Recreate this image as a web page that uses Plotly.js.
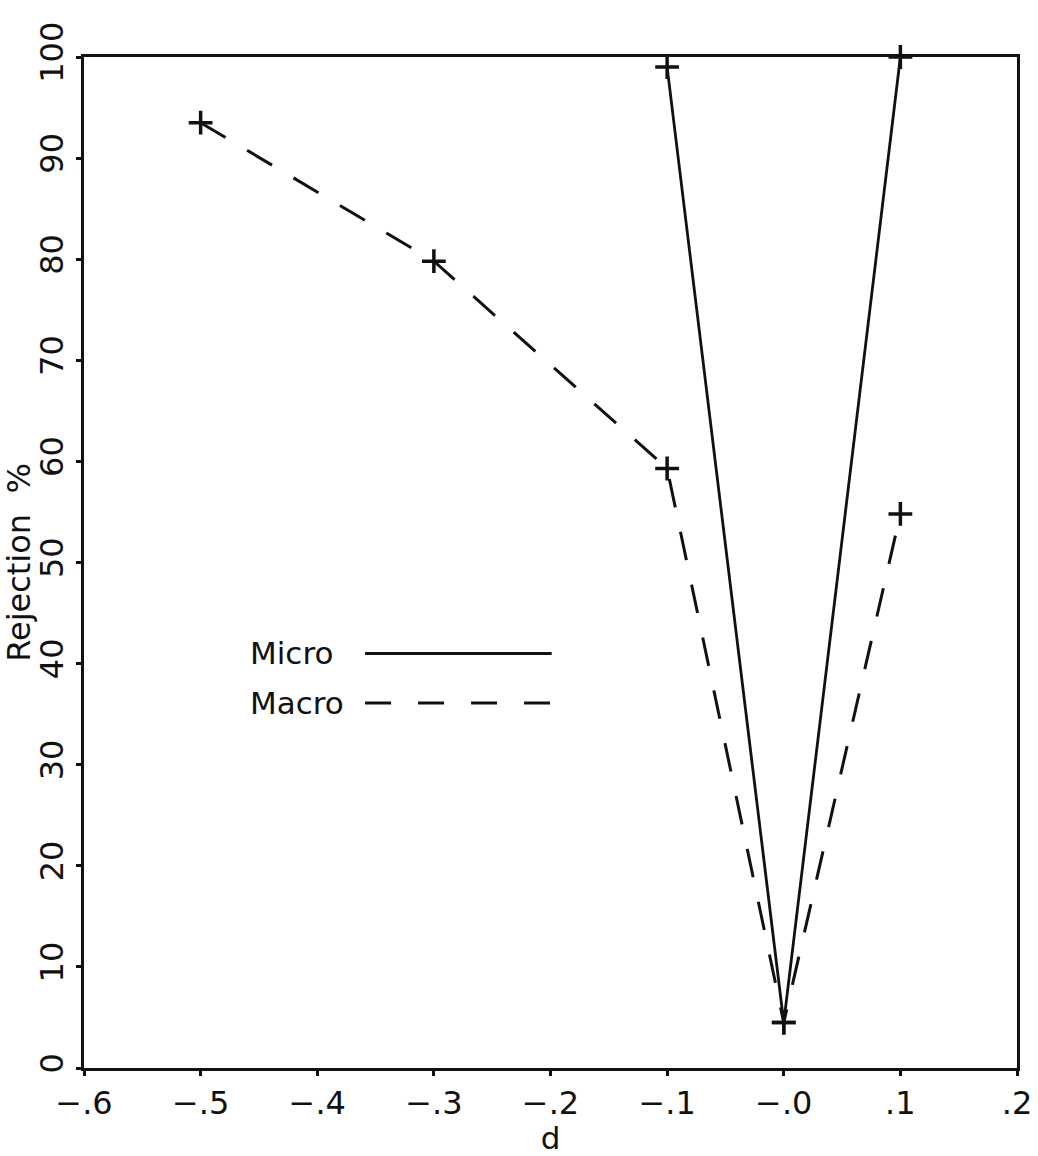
<!DOCTYPE html>
<html>
<head>
<meta charset="utf-8">
<script src="https://cdn.plot.ly/plotly-3.0.1.min.js"></script>
<style>
  html, body { margin: 0; padding: 0; background: #ffffff; }
  #chart { width: 1038px; height: 1156px; }
</style>
</head>
<body>
<div id="chart"></div>
<script>
// ---- data ----
const macroD = [-0.5, -0.3, -0.1, 0.0, 0.1];
const macroRejection = [93.5, 79.8, 59.3, 4.5, 54.8];
const microD = [-0.1, 0.0, 0.1];
const microRejection = [99.0, 4.5, 100];

const xTickVals = [-0.6, -0.5, -0.4, -0.3, -0.2, -0.1, 0.0, 0.1, 0.2];
const xTickText = ['\u2212.6', '\u2212.5', '\u2212.4', '\u2212.3', '\u2212.2', '\u2212.1', '\u2212.0', '.1', '.2'];
const yTickVals = [0, 10, 20, 30, 40, 50, 60, 70, 80, 90, 100];
const yTickText = ['0', '10', '20', '30', '40', '50', '60', '70', '80', '90', '100'];

const seriesNames = ['Micro', 'Macro'];

// ---- style ----
const FONT = 'DejaVu Sans, Liberation Sans, sans-serif';
const INK = '#111111';
const markerStyle = {
  symbol: 'cross-thin',
  size: 17,
  color: INK,
  line: { color: INK, width: 3.5 }
};

const traces = [
  {
    type: 'scatter', mode: 'lines+markers', name: seriesNames[1],
    x: macroD, y: macroRejection,
    line: { color: INK, width: 3, dash: '29px,25px' },
    marker: markerStyle,
    cliponaxis: false, showlegend: false
  },
  {
    type: 'scatter', mode: 'lines+markers', name: seriesNames[0],
    x: microD, y: microRejection,
    line: { color: INK, width: 2.8 },
    marker: markerStyle,
    cliponaxis: false, showlegend: false
  }
];

// legend drawn as text followed by a line sample (as in the reference)
const legX0 = -0.459, legLineX0 = -0.359, legLineX1 = -0.199;
const legY = [41.0, 36.1];

const layout = {
  width: 1038, height: 1156,
  margin: { l: 84, r: 21, t: 57, b: 88 },
  paper_bgcolor: '#ffffff', plot_bgcolor: '#ffffff',
  font: { family: FONT, color: INK, size: 28 },
  showlegend: false,
  xaxis: {
    range: [-0.6, 0.2],
    tickmode: 'array', tickvals: xTickVals, ticktext: xTickText,
    ticks: 'outside', ticklen: 5, tickwidth: 3, tickcolor: INK,
    showline: true, linecolor: INK, linewidth: 3, mirror: true,
    showgrid: false, zeroline: false,
    tickfont: { family: FONT, size: 32, color: INK },
    title: { text: 'd', font: { family: FONT, size: 31, color: INK }, standoff: 0 }
  },
  yaxis: {
    range: [0, 100],
    tickmode: 'array', tickvals: yTickVals, ticktext: yTickText,
    tickangle: -90,
    ticks: 'outside', ticklen: 5, tickwidth: 3, tickcolor: INK,
    showline: true, linecolor: INK, linewidth: 3, mirror: true,
    showgrid: false, zeroline: false,
    tickfont: { family: FONT, size: 32, color: INK },
    title: { text: 'Rejection\u00a0\u00a0%', font: { family: FONT, size: 32, color: INK }, standoff: 0 }
  },
  annotations: [
    { x: legX0, y: legY[0], xref: 'x', yref: 'y', text: seriesNames[0], showarrow: false,
      xanchor: 'left', yanchor: 'middle', font: { family: FONT, size: 31, color: INK } },
    { x: legX0, y: legY[1], xref: 'x', yref: 'y', text: seriesNames[1], showarrow: false,
      xanchor: 'left', yanchor: 'middle', font: { family: FONT, size: 31, color: INK } }
  ],
  shapes: [
    { type: 'line', xref: 'x', yref: 'y', x0: legLineX0, x1: legLineX1, y0: legY[0], y1: legY[0],
      line: { color: INK, width: 2.8 } },
    { type: 'line', xref: 'x', yref: 'y', x0: legLineX0, x1: legLineX1, y0: legY[1], y1: legY[1],
      line: { color: INK, width: 3, dash: '26px,27px' } }
  ]
};

Plotly.newPlot('chart', traces, layout, { displayModeBar: false, staticPlot: true });
</script>
</body>
</html>
